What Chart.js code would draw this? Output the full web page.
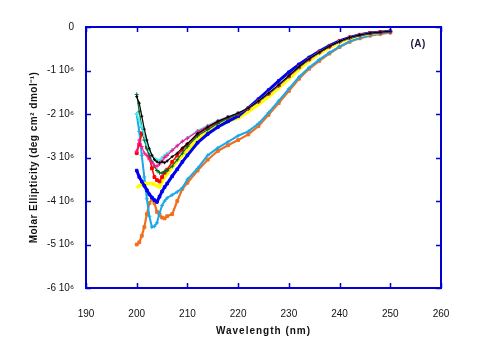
<!DOCTYPE html>
<html>
<head>
<meta charset="utf-8">
<script src="https://cdn.jsdelivr.net/npm/chart.js@4/dist/chart.umd.min.js"></script>
<style>
html,body{margin:0;padding:0;background:#fff;}
#wrap{width:482px;height:360px;}
</style>
</head>
<body>
<div id="wrap"><canvas id="c" width="482" height="360"></canvas></div>
<script>
// Wavelengths (nm)
const wavelengths = [200,200.5,201,201.5,202,202.5,203,203.5,204,204.5,205,205.5,206,207,208,209,210,212,214,216,218,220,222,224,226,228,230,232,234,236,238,240,242,244,246,248,250];

// Molar ellipticity, in units of 10^6 deg cm2 dmol-1
const seriesBlack = [-1.6,-1.75,-2.05,-2.35,-2.6,-2.8,-2.95,-3.05,-3.1,-3.12,-3.1,-3.12,-3.08,-2.98,-2.9,-2.78,-2.68,-2.45,-2.3,-2.17,-2.07,-1.98,-1.86,-1.7,-1.52,-1.33,-1.12,-0.91,-0.73,-0.58,-0.44,-0.33,-0.24,-0.18,-0.14,-0.12,-0.1];
const seriesGreen = [-1.55,-1.95,-2.3,-2.6,-2.8,-2.95,-3.1,-3.2,-3.3,-3.35,-3.36,-3.32,-3.3,-3.2,-3.05,-2.9,-2.75,-2.5,-2.36,-2.22,-2.1,-2.01,-1.88,-1.72,-1.54,-1.35,-1.14,-0.93,-0.75,-0.59,-0.45,-0.34,-0.25,-0.19,-0.15,-0.12,-0.1];
const seriesRed = [-2.9,-2.7,-2.45,-2.5,-2.75,-3.0,-3.25,-3.45,-3.52,-3.55,-3.45,-3.35,-3.28,-3.1,-2.95,-2.82,-2.7,-2.47,-2.32,-2.19,-2.08,-1.99,-1.87,-1.71,-1.53,-1.34,-1.13,-0.92,-0.74,-0.58,-0.45,-0.33,-0.24,-0.18,-0.14,-0.12,-0.1];
const seriesMagenta = [-2.85,-2.6,-2.75,-2.9,-2.95,-3.05,-3.12,-3.18,-3.2,-3.15,-3.08,-3.0,-2.95,-2.84,-2.73,-2.63,-2.56,-2.4,-2.28,-2.16,-2.07,-1.99,-1.87,-1.71,-1.53,-1.34,-1.13,-0.92,-0.74,-0.58,-0.45,-0.33,-0.24,-0.18,-0.14,-0.12,-0.1];
const seriesCyan = [-2.0,-2.15,-2.3,-2.5,-2.7,-2.85,-2.95,-3.02,-3.05,-3.06,-3.0,-2.95,-2.9,-2.82,-2.73,-2.63,-2.54,-2.38,-2.26,-2.15,-2.06,-1.98,-1.86,-1.7,-1.52,-1.33,-1.12,-0.91,-0.73,-0.58,-0.44,-0.33,-0.24,-0.18,-0.14,-0.12,-0.1];
const seriesYellow = [-3.7,-3.65,-3.62,-3.6,-3.6,-3.6,-3.6,-3.62,-3.65,-3.68,-3.55,-3.45,-3.38,-3.22,-3.08,-2.95,-2.83,-2.58,-2.42,-2.28,-2.17,-2.09,-1.95,-1.78,-1.6,-1.4,-1.19,-0.97,-0.78,-0.61,-0.47,-0.35,-0.26,-0.19,-0.15,-0.12,-0.1];
const seriesBlue = [-3.3,-3.45,-3.55,-3.65,-3.75,-3.85,-3.92,-3.98,-4.02,-3.9,-3.78,-3.68,-3.6,-3.43,-3.27,-3.1,-2.95,-2.66,-2.46,-2.3,-2.17,-2.05,-1.86,-1.66,-1.45,-1.24,-1.04,-0.86,-0.7,-0.56,-0.43,-0.32,-0.24,-0.18,-0.14,-0.12,-0.1];
const seriesOrange = [-5.0,-4.95,-4.8,-4.6,-4.3,-4.05,-3.95,-4.05,-4.25,-4.32,-4.38,-4.4,-4.35,-4.3,-4.0,-3.72,-3.58,-3.3,-3.05,-2.85,-2.72,-2.6,-2.47,-2.28,-2.02,-1.75,-1.47,-1.19,-0.96,-0.78,-0.61,-0.46,-0.34,-0.26,-0.2,-0.16,-0.13];
const seriesSky = [-2.0,-2.4,-2.95,-3.45,-3.95,-4.35,-4.6,-4.58,-4.5,-4.28,-4.1,-4.0,-3.93,-3.86,-3.79,-3.7,-3.5,-3.25,-2.95,-2.78,-2.64,-2.5,-2.4,-2.22,-1.97,-1.7,-1.42,-1.15,-0.93,-0.75,-0.59,-0.45,-0.33,-0.25,-0.19,-0.15,-0.12];

// Axis ticks
const xTicks = [190,200,210,220,230,240,250,260];
const yTicks = [0,-1,-2,-3,-4,-5,-6];
const yTickLabels = ['0','-1 10\u2076','-2 10\u2076','-3 10\u2076','-4 10\u2076','-5 10\u2076','-6 10\u2076'];

function pts(vals){ return wavelengths.map((w,i)=>({x:w,y:vals[i]})); }
function ds(label, vals, color, width, style, radius){
  return {label, data:pts(vals), borderColor:color, backgroundColor:color,
    borderWidth:width, pointStyle:style, pointRadius:radius, pointBorderWidth:1,
    pointHoverRadius:0, tension:0, fill:false};
}

const datasets = [
  ds('black', seriesBlack, '#000000', 1.2, 'cross', 1.5),
  ds('magenta', seriesMagenta, '#ff1493', 1.2, 'cross', 2),
  ds('cyan', seriesCyan, '#40f0f0', 1.5, 'rect', 1.2),
  ds('green', seriesGreen, '#006a2a', 1.2, 'cross', 2),
  ds('red', seriesRed, '#ff0000', 1.5, 'rect', 2),
  ds('blue', seriesBlue, '#0000ee', 3, 'rect', 1.8),
  ds('yellow', seriesYellow, '#ffff00', 3.5, 'circle', 0),
  ds('sky', seriesSky, '#1aa8e8', 2, 'cross', 2),
  ds('orange', seriesOrange, '#f07020', 2.2, 'rect', 2)
];

const framePlugin = {
  id:'frame',
  beforeDraw(chart){
    const xs = chart.scales.x;
    if (xs && !xs._lsWrapped){
      const orig = xs.drawTitle.bind(xs);
      xs.drawTitle = function(){ const c=this.ctx; c.save(); c.letterSpacing='1px'; orig(); c.restore(); };
      xs._lsWrapped = true;
    }
    const ys = chart.scales.y;
    if (ys && !ys._lsWrapped){
      const o2 = ys.drawTitle.bind(ys);
      ys.drawTitle = function(){ const c=this.ctx; c.save(); c.letterSpacing='0.5px'; o2(); c.restore(); };
      ys._lsWrapped = true;
    }
  },
  afterDatasetsDraw(chart){
    const {ctx, chartArea:a, scales:{x,y}} = chart;
    ctx.save();
    ctx.strokeStyle = '#0000d0';
    ctx.lineWidth = 1.5;
    const tl = 5;
    ctx.beginPath();
    xTicks.forEach(v=>{
      const px = Math.round(x.getPixelForValue(v))+0.5;
      ctx.moveTo(px,a.top); ctx.lineTo(px,a.top+tl);
      ctx.moveTo(px,a.bottom); ctx.lineTo(px,a.bottom-tl);
    });
    yTicks.forEach(v=>{
      const py = Math.round(y.getPixelForValue(v))+0.5;
      ctx.moveTo(a.left,py); ctx.lineTo(a.left+tl,py);
      ctx.moveTo(a.right,py); ctx.lineTo(a.right-tl,py);
    });
    ctx.stroke();
    ctx.lineWidth = 2;
    ctx.strokeRect(a.left, a.top, a.right-a.left, a.bottom-a.top);
    ctx.fillStyle = '#1a1a3a';
    ctx.font = 'bold 10px "Liberation Sans", Arial, sans-serif';
    ctx.textAlign = 'center';
    ctx.textBaseline = 'middle';
    ctx.letterSpacing = '0.5px';
    ctx.fillText('(A)', x.getPixelForValue(255.5), y.getPixelForValue(-0.4));
    ctx.restore();
  }
};

new Chart(document.getElementById('c'), {
  type:'line',
  data:{datasets},
  options:{
    responsive:false,
    animation:false,
    events:[],
    layout:{padding:{left:0, top:27, right:41, bottom:23}},
    plugins:{legend:{display:false}, tooltip:{enabled:false}},
    scales:{
      x:{
        type:'linear', min:190, max:260,
        afterBuildTicks(s){ s.ticks = xTicks.map(v=>({value:v})); },
        afterFit(s){ s.height = 49; },
        grid:{display:false, drawTicks:false},
        border:{display:false},
        ticks:{padding:20, color:'#111', font:{family:'"Liberation Sans", Arial, sans-serif', size:10}, maxRotation:0, autoSkip:false},
        title:{display:true, text:'Wavelength (nm)', color:'#111', padding:{top:0,bottom:0},
          font:{family:'"Liberation Sans", Arial, sans-serif', size:10, weight:'bold'}}
      },
      y:{
        type:'linear', min:-6, max:0,
        afterBuildTicks(s){ s.ticks = yTicks.map(v=>({value:v})); },
        afterFit(s){ s.width = 86; },
        grid:{display:false, drawTicks:false},
        border:{display:false},
        ticks:{padding:12, color:'#111', font:{family:'"Liberation Sans", Arial, sans-serif', size:10},
          callback:(v)=>{ const i = yTicks.indexOf(v); return i>=0 ? yTickLabels[i] : ''; }, autoSkip:false},
        title:{display:true, text:'Molar Ellipticity (deg cm\u00b2 dmol\u207b\u00b9)', color:'#111', padding:{top:28,bottom:0},
          font:{family:'"Liberation Sans", Arial, sans-serif', size:10, weight:'bold'}}
      }
    }
  },
  plugins:[framePlugin]
});
</script>
</body>
</html>
